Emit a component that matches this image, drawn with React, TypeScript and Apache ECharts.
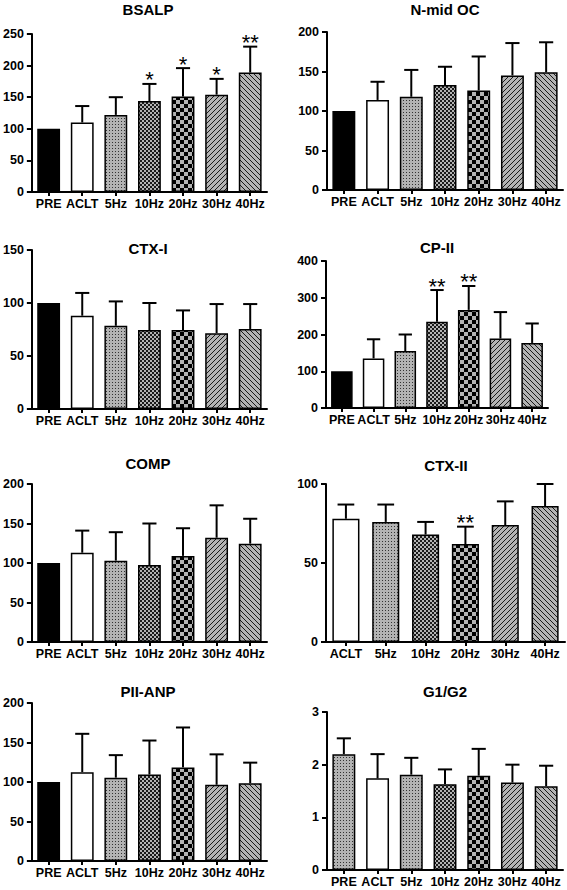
import React, { useEffect, useRef } from 'react';
import * as echarts from 'echarts';

const cats7 = ['PRE', 'ACLT', '5Hz', '10Hz', '20Hz', '30Hz', '40Hz'];
const cats6 = ['ACLT', '5Hz', '10Hz', '20Hz', '30Hz', '40Hz'];

const bsalpMean = [100, 110, 122, 144, 151, 154, 189];
const bsalpErr = [null, 136, 150, 171, 196, 179, 230];
const bsalpSig = ['', '', '', '*', '*', '*', '**'];

const nmidMean = [100, 114, 118, 133, 126, 145, 149];
const nmidErr = [null, 137, 152, 156, 169, 186, 187];
const nmidSig = ['', '', '', '', '', '', ''];

const ctx1Mean = [100, 88, 78.5, 74.5, 74.5, 71.5, 75.5];
const ctx1Err = [null, 109.5, 101.5, 100, 93, 99, 99];
const ctx1Sig = ['', '', '', '', '', '', ''];

const cp2Mean = [100, 135, 155, 235, 267, 189, 177];
const cp2Err = [null, 187, 200, 321, 332, 261, 230];
const cp2Sig = ['', '', '', '**', '**', '', ''];

const compMean = [100, 113, 103, 97.5, 109, 132, 124.5];
const compErr = [null, 141, 139, 150, 144, 173, 156];
const compSig = ['', '', '', '', '', '', ''];

const ctx2Mean = [78, 76, 68, 62, 74, 86];
const ctx2Err = [87, 87, 76, 73, 89, 100];
const ctx2Sig = ['', '', '', '**', '', ''];

const piiMean = [100, 112.5, 105.5, 109.5, 118.5, 96.5, 98.5];
const piiErr = [null, 161, 134, 152.5, 169, 135, 124.5];
const piiSig = ['', '', '', '', '', '', ''];

const g1g2Mean = [2.2, 1.74, 1.81, 1.63, 1.79, 1.66, 1.59];
const g1g2Err = [2.5, 2.2, 2.13, 1.91, 2.3, 2.0, 1.98];
const g1g2Sig = ['', '', '', '', '', '', ''];

const panels = [
  { title: 'BSALP', cats: cats7, mean: bsalpMean, err: bsalpErr, sig: bsalpSig, max: 250, interval: 50 },
  { title: 'N-mid OC', cats: cats7, mean: nmidMean, err: nmidErr, sig: nmidSig, max: 200, interval: 50 },
  { title: 'CTX-I', cats: cats7, mean: ctx1Mean, err: ctx1Err, sig: ctx1Sig, max: 150, interval: 50 },
  { title: 'CP-II', cats: cats7, mean: cp2Mean, err: cp2Err, sig: cp2Sig, max: 400, interval: 100 },
  { title: 'COMP', cats: cats7, mean: compMean, err: compErr, sig: compSig, max: 200, interval: 50 },
  { title: 'CTX-II', cats: cats6, mean: ctx2Mean, err: ctx2Err, sig: ctx2Sig, max: 100, interval: 50 },
  { title: 'PII-ANP', cats: cats7, mean: piiMean, err: piiErr, sig: piiSig, max: 200, interval: 50 },
  { title: 'G1/G2', cats: cats7, mean: g1g2Mean, err: g1g2Err, sig: g1g2Sig, max: 3, interval: 1 },
];

// layout (pixels)
const layouts = [
  { left: 29, top: 34, width: 238, height: 158, tx: 148, ty: 9 },
  { left: 327, top: 32, width: 236, height: 158, tx: 445, ty: 9.5 },
  { left: 29, top: 250, width: 238, height: 159, tx: 148, ty: 248 },
  { left: 326, top: 261, width: 222, height: 147, tx: 437, ty: 247 },
  { left: 29, top: 484, width: 238, height: 158, tx: 148, ty: 463 },
  { left: 326, top: 484, width: 239, height: 158, tx: 446, ty: 465 },
  { left: 29, top: 703, width: 238, height: 158, tx: 148, ty: 691 },
  { left: 327, top: 712, width: 236, height: 158, tx: 445, ty: 691 },
];

const FONT = 'Arial, "Liberation Sans", Helvetica, sans-serif';
const GRAY = '#b3b3b3';

function tile(size: number, draw: (ctx: CanvasRenderingContext2D, s: number) => void) {
  const c = document.createElement('canvas');
  c.width = size;
  c.height = size;
  const ctx = c.getContext('2d')!;
  ctx.fillStyle = GRAY;
  ctx.fillRect(0, 0, size, size);
  draw(ctx, size);
  return { image: c, repeat: 'repeat', imageWidth: size, imageHeight: size };
}

function makeFills() {
  const dots = tile(3, (ctx) => {
    ctx.fillStyle = '#333';
    ctx.fillRect(1, 1, 1, 1);
  });
  const fine = tile(4, (ctx) => {
    ctx.fillStyle = '#1a1a1a';
    ctx.fillRect(0, 0, 2, 2);
    ctx.fillRect(2, 2, 2, 2);
  });
  const checker = tile(8, (ctx) => {
    ctx.fillStyle = '#000';
    ctx.fillRect(0, 0, 4, 4);
    ctx.fillRect(4, 4, 4, 4);
  });
  const up = tile(5, (ctx, s) => {
    ctx.strokeStyle = '#111';
    ctx.lineWidth = 0.95;
    ctx.beginPath();
    ctx.moveTo(-1, 1); ctx.lineTo(1, -1);
    ctx.moveTo(0, s); ctx.lineTo(s, 0);
    ctx.moveTo(s - 1, s + 1); ctx.lineTo(s + 1, s - 1);
    ctx.stroke();
  });
  const down = tile(5, (ctx, s) => {
    ctx.strokeStyle = '#111';
    ctx.lineWidth = 0.95;
    ctx.beginPath();
    ctx.moveTo(0, 0); ctx.lineTo(s, s);
    ctx.moveTo(-1, s - 1); ctx.lineTo(1, s + 1);
    ctx.moveTo(s - 1, -1); ctx.lineTo(s + 1, 1);
    ctx.stroke();
  });
  return { dots, fine, checker, up, down };
}

export default function App() {
  const ref = useRef<HTMLDivElement>(null);
  useEffect(() => {
    if (!ref.current) return;
    const chart = echarts.init(ref.current, null, { renderer: 'svg' });
    const f = makeFills();
    const fillFor = (cat: string, title: string): any => {
      if (cat === 'PRE') return title === 'G1/G2' ? f.dots : '#000';
      if (cat === 'ACLT') return '#fff';
      if (cat === '5Hz') return f.dots;
      if (cat === '10Hz') return f.fine;
      if (cat === '20Hz') return f.checker;
      if (cat === '30Hz') return f.up;
      return f.down;
    };

    const grid = layouts.map((l) => ({ left: l.left, top: l.top, width: l.width, height: l.height }));
    const xAxis = panels.map((p, i) => ({
      type: 'category',
      gridIndex: i,
      data: p.cats,
      axisLine: { show: true, lineStyle: { color: '#000', width: 2 } },
      axisTick: { show: true, alignWithLabel: true, length: 4, lineStyle: { color: '#000', width: 2 } },
      axisLabel: { color: '#000', fontWeight: 'bold', fontSize: 12.5, fontFamily: FONT, margin: 5, interval: 0 },
    }));
    const yAxis = panels.map((p, i) => ({
      type: 'value',
      gridIndex: i,
      min: 0,
      max: p.max,
      interval: p.interval,
      axisLine: { show: true, lineStyle: { color: '#000', width: 2 } },
      axisTick: { show: true, length: 5, lineStyle: { color: '#000', width: 2 } },
      splitLine: { show: false },
      axisLabel: { color: '#000', fontWeight: 'bold', fontSize: 12.5, fontFamily: FONT, margin: 8 },
    }));
    const series: any[] = [];
    panels.forEach((p, i) => {
      series.push({
        type: 'bar',
        xAxisIndex: i,
        yAxisIndex: i,
        barWidth: '68%',
        data: p.mean.map((v, j) => ({
          value: v,
          itemStyle: { color: fillFor(p.cats[j], p.title), borderColor: '#000', borderWidth: 1.5 },
        })),
        z: 2,
      });
      series.push({
        type: 'custom',
        xAxisIndex: i,
        yAxisIndex: i,
        z: 3,
        data: p.mean.map((v, j) => [j, v]),
        renderItem: (params: any, api: any) => {
          const j = params.dataIndex;
          const m = p.mean[j];
          const e = p.err[j];
          const s = p.sig[j];
          const band = api.size([1, 0])[0];
          const children: any[] = [];
          const base = api.coord([j, m]);
          let topY = base[1];
          if (e != null) {
            const top = api.coord([j, e]);
            topY = top[1];
            children.push({
              type: 'line',
              shape: { x1: base[0], y1: base[1], x2: top[0], y2: top[1] },
              style: { stroke: '#000', lineWidth: 2 },
            });
            children.push({
              type: 'line',
              shape: { x1: top[0] - band * 0.21, y1: top[1], x2: top[0] + band * 0.21, y2: top[1] },
              style: { stroke: '#000', lineWidth: 2 },
            });
          }
          if (s) {
            children.push({
              type: 'text',
              x: base[0],
              y: topY - 4,
              style: {
                text: s,
                fill: '#000',
                fontSize: 22,
                fontWeight: 'normal',
                fontFamily: FONT,
                align: 'center',
                verticalAlign: 'middle',
              },
            });
          }
          return { type: 'group', children };
        },
      });
    });

    const graphic = panels.map((p, i) => ({
      type: 'text',
      x: layouts[i].tx,
      y: layouts[i].ty,
      style: {
        text: p.title,
        fill: '#000',
        fontSize: 15,
        fontWeight: 'bold',
        fontFamily: FONT,
        align: 'center',
        verticalAlign: 'middle',
      },
    }));

    chart.setOption({
      animation: false,
      backgroundColor: '#fff',
      grid,
      xAxis,
      yAxis,
      series,
      graphic,
    });
    return () => chart.dispose();
  }, []);
  return (
    <div
      ref={ref}
      style={{ position: 'absolute', left: 0, top: 0, width: 567, height: 890, background: '#fff' }}
    />
  );
}
